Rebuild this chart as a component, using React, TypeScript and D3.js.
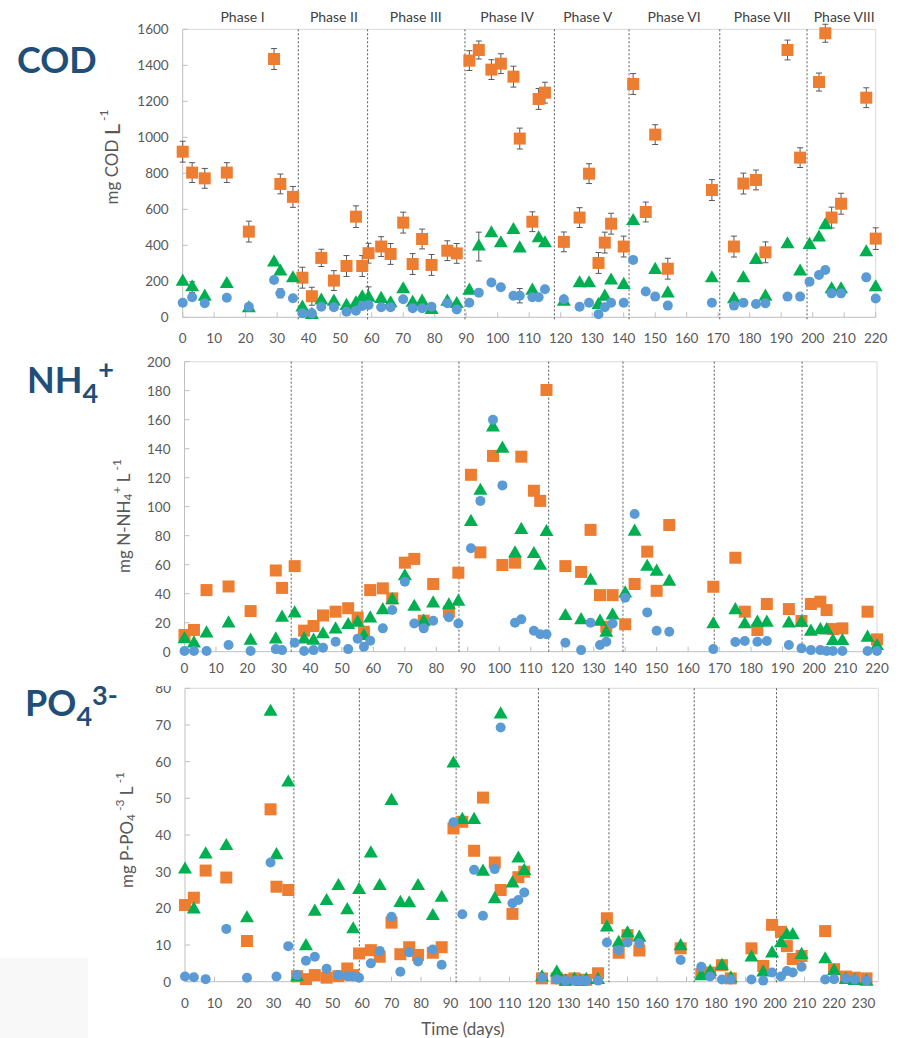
import React from 'react';
import * as d3 from 'd3';

// sampling days shared by the COD and NH4+ panels
const days = [0, 3, 7, 14, 21, 29, 31, 35, 38, 41, 44, 48, 52, 55, 57, 59, 63, 66, 70, 73, 76, 79, 84, 87, 91, 94, 98, 101, 105, 107, 111, 113, 115, 121, 126, 129, 132, 134, 136, 140, 143, 147, 150, 154, 168, 175, 178, 182, 185, 192, 196, 199, 202, 204, 206, 209, 217, 220];
// PO4 panel has three extra late samples
const poDays = [...days, 224, 227, 231];

const xTicks220 = d3.range(0, 221, 10);
const xTicks230 = d3.range(0, 231, 10);
const phaseNames = ['Phase I', 'Phase II', 'Phase III', 'Phase IV', 'Phase V', 'Phase VI', 'Phase VII', 'Phase VIII'];
const phaseCenters = [19, 48, 74, 103, 128.6, 156, 184, 210];

const codPhases = [36.7, 58.7, 89.6, 118, 141.7, 170.5, 198.2];
const nhPhases = [33.9, 56.4, 87.2, 115.7, 139.3, 168.3, 196.2];
const poPhases = [36.9, 59.1, 91.9, 119.8, 143.7, 172.6, 200.5];

// COD (mg COD/L)
const codSquares = [920, 804, 772, 804, 476, 1435, 741, 669, 220, 117, 330, 204, 285, 559, 285, 356, 393, 352, 526, 296, 435, 291, 370, 355, 1426, 1485, 1376, 1409, 1337, 993, 531, 1213, 1248, 419, 554, 798, 302, 415, 520, 393, 1296, 585, 1015, 270, 707, 393, 743, 763, 361, 1485, 887, null, 1307, 1578, 554, 631, 1220, 437];
const codSquaresErr = [58, 55, 55, 55, 58, 58, 55, 58, 58, 50, 48, 55, 58, 60, 58, 55, 55, 58, 58, 58, 55, 58, 55, 55, 55, 50, 55, 55, 58, 58, 55, 58, 58, 55, 55, 55, 58, 58, 58, 58, 58, 55, 55, 58, 58, 58, 58, 55, 58, 55, 55, null, 50, 50, 58, 58, 55, 60];
const codTriangles = [198, 167, 115, 185, 50, 304, 254, 217, 54, 13, 93, 87, 63, 78, 111, 109, 102, 78, 156, 81, 87, 41, 87, 74, 148, 393, 467, 411, 485, 383, 148, 439, 411, 87, 189, 189, 69, 115, 204, 180, 535, null, 263, 133, 217, 100, 217, 319, 115, 406, 254, 402, 443, 511, 156, 156, 361, 167];
const codTrianglesErr = [0, 30, 0, 0, 0, 0, 0, 0, 0, 0, 0, 0, 0, 0, 0, 60, 0, 0, 0, 0, 0, 0, 0, 0, 0, 80, 0, 0, 0, 0, 0, 0, 0, 0, 0, 0, 0, 0, 0, 0, 0, 0, 0, 0, 0, 0, 0, 0, 0, 0, 0, 0, 0, 0, 0, 0, 0, 0];
const codCircles = [81, 111, 78, 109, 59, 207, 133, 106, 22, 22, 59, 56, 31, 37, 63, 69, 56, 56, 100, 50, 50, 59, 78, 44, 81, 137, 193, 167, 120, 120, 111, 111, 156, 100, 59, 81, 17, 56, 81, 81, 319, 143, 115, 65, 81, 65, 81, 74, 78, 115, 115, 198, 235, 263, 133, 133, 222, 104];
const codCirclesErr = [0, 0, 0, 0, 0, 0, 25, 0, 0, 0, 0, 0, 0, 0, 0, 0, 0, 0, 0, 0, 0, 0, 0, 0, 0, 0, 0, 0, 0, 40, 0, 0, 0, 0, 0, 0, 0, 0, 0, 0, 0, 0, 0, 0, 0, 0, 0, 0, 0, 0, 0, 0, 0, 0, 0, 0, 0, 0];

// NH4+ (mg N-NH4+/L)
const nhSquares = [11.5, 15, 42.5, 45, 28, 56, 44, 59, 14.5, 17.7, 25, 27.6, 30, 23.5, 13.8, 42.5, 43.7, 36.8, 61.4, 64, 21.4, 46.7, 27.6, 54.5, 122, 68.5, 135, 59.8, 61.4, 134.5, 111, 104, 180.5, 59, 55, 84, 39, 17.2, 39, 18.9, 46.7, 69, 42, 87.4, 44.8, 64.8, 27.6, 15, 32.9, 29.4, 21.2, 32.9, 34.5, 28.7, 15.6, 16.1, 27.6, 8.5];
const nhTriangles = [8.7, 5.7, 12.6, 19.5, 7.6, 8.5, 23.5, 26.4, 8.5, 7.6, 12, 15.4, 18.4, 20, 10.8, 23, 28.7, 35.6, 52, 31, 20.7, 33.3, 32, 34.5, 89.5, 111, 154.7, 140, 67.8, 84, 67.4, 59.3, 82.5, 24.6, 21.8, 49, 20.7, 13.1, 25, 40.2, 82.8, 58.6, 55.2, 48.3, 18.9, 28.7, 18.9, 20, 20, 19.5, 20, 13.8, 14.9, 14.9, 7.4, 7.4, 9.7, 3.9];
const nhCircles = [0.5, 0.5, 0.5, 4.6, 0.5, 1.8, 1.1, 6.2, 0.5, 1.1, 2.8, 6.9, 1.8, 9, 3.4, 7.6, 16.1, 28.7, 48.3, 19.5, 16.1, 21.4, 23.7, 19.5, 71.3, 104, 160, 114.7, 20, 22.3, 14.5, 12, 12, 6.2, 1.1, 20, 4.6, 6.9, 19.5, 37.2, 95, 27.1, 14.5, 13.8, 1.8, 6.7, 7.4, 6.9, 7.4, 4.6, 2.3, 1.1, 1.1, 0.5, 0.5, 0.5, 0.5, 0.5];

// PO4 3- (mg P-PO4/L)
const poSquares = [20.9, 22.9, 30.3, 28.4, 11.1, 47, 25.9, 25, 1.5, 0.7, 1.8, 1.1, 1.5, 3.6, 1.8, 7.7, 8.6, 6.8, 16.1, 7.5, 9.4, 7.3, 7.9, 9.4, 41.8, 43.6, 35.7, 50.2, 32.5, 25, 18.5, 28.5, 30, 0.9, 0.9, 0.5, 0.9, 0.5, 0.5, 2.3, 17.3, 7.9, 12.7, 8.5, 9.1, 2.1, 2.5, 4.5, 0.9, 9.1, 4.3, 15.5, 13.6, 9.7, 6.2, 7, 13.8, 3.4, 1.4, 1.1, 0.9];
const poTriangles = [30.6, 19.7, 34.7, 37, 17.3, 73.6, 34.5, 54.3, 1.2, 9.7, 19.1, 22, 26.1, 19.5, 14.3, 25, 35, 26.1, 49.3, 21.5, 21.4, 26.1, 17.9, 22.9, 59.5, 44.1, 44.1, 30, 22.5, 72.9, 26.8, 33.6, 30.2, 1.2, 2.5, 0, 0.6, 0, 0.5, 0.5, 14.8, 10.6, 13.2, 12, 9.7, 1.5, 2.7, 4.3, 0.9, 6.6, 2.5, 7.7, 10.5, 12.7, 12.7, 7.3, 6.1, 2.9, 0.5, 0.2, 0];
const poCircles = [1.4, 1.2, 0.7, 14.4, 1.1, 32.5, 1.4, 9.7, 1.8, 5.7, 6.8, 3.5, 1.8, 1.5, 1.4, 1.1, 5, 8.4, 17.7, 2.7, 8, 5.5, 8.8, 4.6, 43.5, 18.4, 30.5, 18, 30.7, 69.3, 21.4, 22.3, 24.3, 1.1, 0.6, 0.3, 0.3, 0.3, 0.3, 0.3, 10.7, 8.6, 10.7, 10.5, 5.9, 4.1, 1.4, 0.6, 0.6, 0.6, 0.3, 2.5, 1.4, 2.9, 2.5, 4.1, 0.6, 0.7, 0.9, 0.6, 0.3];

const ORANGE = '#ED7D31';
const GREEN = '#00B050';
const BLUE = '#5B9BD5';
const TICK_TEXT = '#595959';
const FONT = 'Lato, "Open Sans", sans-serif';

type PanelProps = {
  days: number[];
  squares: (number | null)[];
  triangles: (number | null)[];
  circles: (number | null)[];
  squaresErr?: (number | null)[];
  trianglesErr?: (number | null)[];
  circlesErr?: (number | null)[];
  xMax: number;
  xTicks: number[];
  left: number;
  right: number;
  top: number;
  bottom: number;
  yMax: number;
  yStep: number;
  phases: number[];
  phaseExtra: number;
  tickLabelY: number;
  clipId?: string;
};

function Panel(p: PanelProps) {
  const x = d3.scaleLinear().domain([0, p.xMax]).range([p.left, p.right]);
  const y = d3.scaleLinear().domain([0, p.yMax]).range([p.bottom, p.top]);
  const yTicks = d3.range(0, p.yMax + 0.001, p.yStep);
  const tri = d3.symbol(d3.symbolTriangle, 85)();

  const errBars = (vals: (number | null)[], errs: (number | null)[] | undefined, key: string) =>
    errs ? vals.map((v, i) => {
      const e = errs[i];
      if (v == null || !e) return null;
      const cx = x(p.days[i]);
      return (
        <g key={key + i} stroke="#595959" strokeWidth={1}>
          <line x1={cx} x2={cx} y1={y(v - e)} y2={y(v + e)} />
          <line x1={cx - 3} x2={cx + 3} y1={y(v - e)} y2={y(v - e)} />
          <line x1={cx - 3} x2={cx + 3} y1={y(v + e)} y2={y(v + e)} />
        </g>
      );
    }) : null;

  return (
    <g fontFamily={FONT}>
      {/* frame */}
      <line x1={p.left} x2={p.right} y1={p.top} y2={p.top} stroke="#d9d9d9" />
      <line x1={p.right} x2={p.right} y1={p.top} y2={p.bottom} stroke="#d9d9d9" />
      <line x1={p.left} x2={p.left} y1={p.top} y2={p.bottom} stroke="#bfbfbf" />
      <line x1={p.left} x2={p.right} y1={p.bottom} y2={p.bottom} stroke="#bfbfbf" />
      {/* ticks */}
      {p.xTicks.map(t => (
        <g key={'xt' + t}>
          <line x1={x(t)} x2={x(t)} y1={p.bottom} y2={p.bottom - 5} stroke="#bfbfbf" />
          <text x={x(t)} y={p.tickLabelY} textAnchor="middle" dominantBaseline="central" fontSize={13.5} fill={TICK_TEXT}>{t}</text>
        </g>
      ))}
      <g clipPath={p.clipId ? `url(#${p.clipId})` : undefined}>
        {yTicks.map(t => (
          <g key={'yt' + t}>
            <line x1={p.left} x2={p.left + 5} y1={y(t)} y2={y(t)} stroke="#bfbfbf" />
            <text x={p.left - 14} y={y(t)} textAnchor="end" dominantBaseline="central" fontSize={13.5} fill={TICK_TEXT}>{t}</text>
          </g>
        ))}
      </g>
      {/* phase boundaries */}
      {p.phases.map(d => (
        <line key={'ph' + d} x1={x(d)} x2={x(d)} y1={p.top} y2={p.bottom + p.phaseExtra} stroke="#595959" strokeWidth={1} strokeDasharray="2,2" />
      ))}
      {errBars(p.squares, p.squaresErr, 'es')}
      {errBars(p.triangles, p.trianglesErr, 'et')}
      {errBars(p.circles, p.circlesErr, 'ec')}
      {p.squares.map((v, i) => v == null ? null : (
        <rect key={'s' + i} x={x(p.days[i]) - 6} y={y(v) - 6} width={12} height={12} fill={ORANGE} />
      ))}
      {p.triangles.map((v, i) => v == null ? null : (
        <path key={'t' + i} d={tri || ''} transform={`translate(${x(p.days[i])},${y(v)})`} fill={GREEN} />
      ))}
      {p.circles.map((v, i) => v == null ? null : (
        <circle key={'c' + i} cx={x(p.days[i])} cy={y(v)} r={5} fill={BLUE} />
      ))}
    </g>
  );
}

const TITLE = '#1F4E79';

export default function App() {
  const phaseX = d3.scaleLinear().domain([0, 220]).range([182.7, 875.7]);
  return (
    <svg width={899} height={1038} style={{ position: 'absolute', left: 0, top: 0, background: '#fff' }}>
      <defs>
        <clipPath id="poClip">
          <rect x={0} y={686} width={899} height={352} />
        </clipPath>
      </defs>
      <rect x={0} y={958} width={88} height={80} fill="#f8f8f8" />

      {phaseNames.map((n, i) => (
        <text key={n} x={phaseX(phaseCenters[i])} y={16} textAnchor="middle" dominantBaseline="central" fontFamily={FONT} fontSize={14} fill="#404040">{n}</text>
      ))}

      <Panel days={days} squares={codSquares} triangles={codTriangles} circles={codCircles}
        squaresErr={codSquaresErr} trianglesErr={codTrianglesErr} circlesErr={codCirclesErr}
        xMax={220} xTicks={xTicks220} left={182.7} right={875.7} top={29.3} bottom={317.3}
        yMax={1600} yStep={200} phases={codPhases} phaseExtra={4} tickLabelY={338} />

      <Panel days={days} squares={nhSquares} triangles={nhTriangles} circles={nhCircles}
        xMax={220} xTicks={xTicks220} left={184.5} right={877} top={361.7} bottom={651.7}
        yMax={200} yStep={20} phases={nhPhases} phaseExtra={1} tickLabelY={668} />

      <Panel days={poDays} squares={poSquares} triangles={poTriangles} circles={poCircles}
        xMax={235} xTicks={xTicks230} left={185} right={878.3} top={688.3} bottom={981.7}
        yMax={80} yStep={10} phases={poPhases} phaseExtra={1} tickLabelY={1003} clipId="poClip" />

      {/* panel titles */}
      <g fontFamily={FONT} fontWeight="bold" fill={TITLE}>
        <text x={17} y={73} fontSize={36}>COD</text>
        <text x={27} y={393} fontSize={36}>NH<tspan fontSize={27} dy={10}>4</tspan><tspan fontSize={27} dy={-24}>+</tspan></text>
        <text x={25} y={716} fontSize={36}>PO<tspan fontSize={27} dy={10}>4</tspan><tspan fontSize={27} dy={-21}>3-</tspan></text>
      </g>

      {/* axis titles */}
      <g fontFamily={FONT} fill={TICK_TEXT}>
        <text transform="translate(111,157) rotate(-90)" textAnchor="middle" dominantBaseline="central" fontSize={17}>
          mg COD <tspan fontSize={22}>L</tspan><tspan fontSize={12} dy={-8}> -1</tspan>
        </text>
        <text transform="translate(123,516) rotate(-90)" textAnchor="middle" dominantBaseline="central" fontSize={17}>
          mg N-NH<tspan fontSize={12} dy={4}>4</tspan><tspan fontSize={12} dy={-11}>+</tspan><tspan dy={7}> L</tspan><tspan fontSize={12} dy={-7}> -1</tspan>
        </text>
        <text transform="translate(126,830) rotate(-90)" textAnchor="middle" dominantBaseline="central" fontSize={17}>
          mg P-PO<tspan fontSize={12} dy={4}>4</tspan><tspan fontSize={12} dy={-11}> -3</tspan><tspan dy={7}> L</tspan><tspan fontSize={12} dy={-7}> -1</tspan>
        </text>
        <text x={463} y={1028} textAnchor="middle" dominantBaseline="central" fontSize={17}>Time (days)</text>
      </g>
    </svg>
  );
}
